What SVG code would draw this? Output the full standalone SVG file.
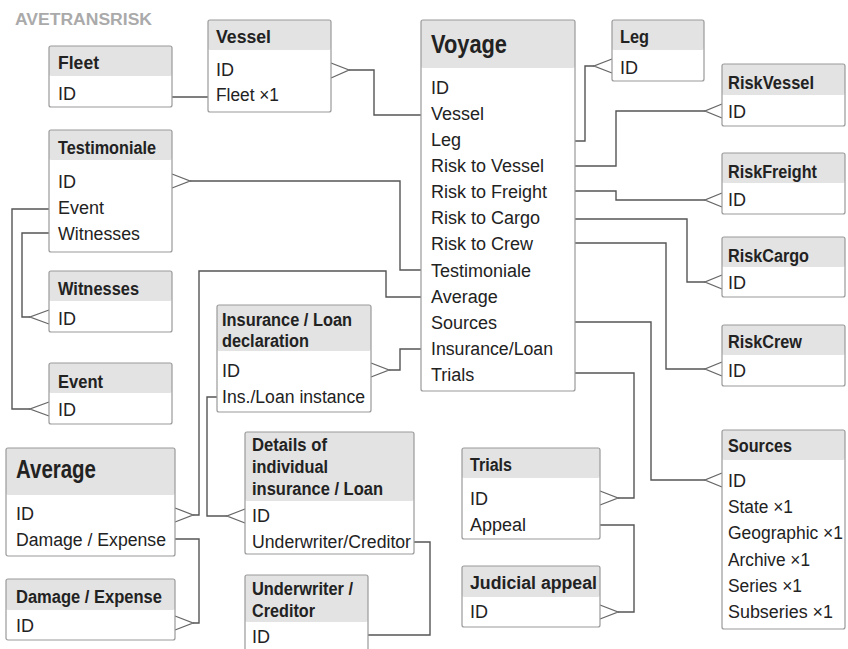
<svg xmlns="http://www.w3.org/2000/svg" width="848" height="649" viewBox="0 0 848 649">
<style>
.bg{fill:#ffffff;stroke:none}
.hd{fill:#e3e3e3;stroke:none}
.ol{fill:none;stroke:#9a9a9a;stroke-width:1.2}
.t{font-family:"Liberation Sans",Arial,sans-serif;font-size:18px;fill:#222}
.h{font-family:"Liberation Sans",Arial,sans-serif;font-size:18px;font-weight:bold;fill:#222}
.H{font-family:"Liberation Sans",Arial,sans-serif;font-size:25px;font-weight:bold;fill:#222}
.ttl{font-family:"Liberation Sans",Arial,sans-serif;font-size:16px;font-weight:bold;fill:#aaaaaa}
.c{fill:none;stroke:#555;stroke-width:1.4}
.cf{fill:none;stroke:#666;stroke-width:1.3}
</style>
<rect x="0" y="0" width="848" height="649" fill="#ffffff"/>
<text class="ttl" x="15" y="25" textLength="137" lengthAdjust="spacingAndGlyphs">AVETRANSRISK</text>

<g id="connectors">
<path class="c" d="M172,97 H208"/>
<path class="c" d="M421,115 H374 V70 H349"/><path class="cf" d="M331,63 L349,70 L331,78"/>
<path class="c" d="M575,141 H585 V66 H594"/><path class="cf" d="M612,59 L594,66 L612,73"/>
<path class="c" d="M575,166 H616 V111 H705"/><path class="cf" d="M722,104 L705,111 L722,118"/>
<path class="c" d="M575,191 H616 V200 H705"/><path class="cf" d="M722,193 L705,200 L722,207"/>
<path class="c" d="M575,219 H687 V282 H705"/><path class="cf" d="M722,275 L705,282 L722,289"/>
<path class="c" d="M575,243 H666 V369 H705"/><path class="cf" d="M722,362 L705,369 L722,376"/>
<path class="c" d="M575,322 H651 V480 H705"/><path class="cf" d="M722,473 L705,480 L722,487"/>
<path class="c" d="M575,373 H634 V498 H618"/><path class="cf" d="M600,491 L618,498 L600,505"/>
<path class="c" d="M600,525 H634 V612 H618"/><path class="cf" d="M600,605 L618,612 L600,619"/>
<path class="c" d="M421,270 H400 V181 H190"/><path class="cf" d="M172,174 L190,181 L172,188"/>
<path class="c" d="M421,297 H386 V271 H199 V515 H193"/><path class="cf" d="M175,508 L193,515 L175,522"/>
<path class="c" d="M421,349 H400 V370 H389"/><path class="cf" d="M371,363 L389,370 L371,377"/>
<path class="c" d="M217,397 H207 V516 H227"/><path class="cf" d="M245,509 L227,516 L245,523"/>
<path class="c" d="M414,542 H430 V635 H368"/>
<path class="c" d="M175,539 H199 V623 H193"/><path class="cf" d="M175,616 L193,623 L175,630"/>
<path class="c" d="M49,209 H12 V409 H30"/><path class="cf" d="M49,402 L30,409 L49,416"/>
<path class="c" d="M49,233 H22 V317 H30"/><path class="cf" d="M49,310 L30,317 L49,324"/>
</g>

<g id="fleet">
<rect class="bg" x="49" y="46" width="123" height="61" rx="2"/><rect class="hd" x="49" y="46" width="123" height="30" rx="2"/>
<rect class="ol" x="49" y="46" width="123" height="61" rx="2"/>
<text class="h" x="58" y="69" textLength="41" lengthAdjust="spacingAndGlyphs">Fleet</text>
<text class="t" x="58" y="100">ID</text>
</g>

<g id="vessel">
<rect class="bg" x="208" y="20" width="123" height="92" rx="2"/><rect class="hd" x="208" y="20" width="123" height="30" rx="2"/>
<rect class="ol" x="208" y="20" width="123" height="92" rx="2"/>
<text class="h" x="216" y="43" textLength="55" lengthAdjust="spacingAndGlyphs">Vessel</text>
<text class="t" x="216" y="76">ID</text>
<text class="t" x="216" y="101" textLength="63" lengthAdjust="spacingAndGlyphs">Fleet ×1</text>
</g>

<g id="voyage">
<rect class="bg" x="421" y="20" width="154" height="371" rx="2"/><rect class="hd" x="421" y="20" width="154" height="48" rx="2"/>
<rect class="ol" x="421" y="20" width="154" height="371" rx="2"/>
<text class="H" x="431" y="53" textLength="76" lengthAdjust="spacingAndGlyphs">Voyage</text>
<text class="t" x="431" y="94">ID</text>
<text class="t" x="431" y="120">Vessel</text>
<text class="t" x="431" y="146">Leg</text>
<text class="t" x="431" y="172">Risk to Vessel</text>
<text class="t" x="431" y="198">Risk to Freight</text>
<text class="t" x="431" y="224">Risk to Cargo</text>
<text class="t" x="431" y="250">Risk to Crew</text>
<text class="t" x="431" y="277">Testimoniale</text>
<text class="t" x="431" y="303">Average</text>
<text class="t" x="431" y="329">Sources</text>
<text class="t" x="431" y="355" textLength="122" lengthAdjust="spacingAndGlyphs">Insurance/Loan</text>
<text class="t" x="431" y="381">Trials</text>
</g>

<g id="leg">
<rect class="bg" x="612" y="20" width="92" height="61" rx="2"/><rect class="hd" x="612" y="20" width="92" height="30" rx="2"/>
<rect class="ol" x="612" y="20" width="92" height="61" rx="2"/>
<text class="h" x="620" y="43" textLength="29" lengthAdjust="spacingAndGlyphs">Leg</text>
<text class="t" x="620" y="74">ID</text>
</g>

<g id="riskvessel">
<rect class="bg" x="722" y="64" width="123" height="62" rx="2"/><rect class="hd" x="722" y="64" width="123" height="31" rx="2"/>
<rect class="ol" x="722" y="64" width="123" height="62" rx="2"/>
<text class="h" x="728" y="89" textLength="86" lengthAdjust="spacingAndGlyphs">RiskVessel</text>
<text class="t" x="728" y="118">ID</text>
</g>

<g id="riskfreight">
<rect class="bg" x="722" y="153" width="123" height="61" rx="2"/><rect class="hd" x="722" y="153" width="123" height="30" rx="2"/>
<rect class="ol" x="722" y="153" width="123" height="61" rx="2"/>
<text class="h" x="728" y="178" textLength="89" lengthAdjust="spacingAndGlyphs">RiskFreight</text>
<text class="t" x="728" y="206">ID</text>
</g>

<g id="riskcargo">
<rect class="bg" x="722" y="237" width="123" height="60" rx="2"/><rect class="hd" x="722" y="237" width="123" height="30" rx="2"/>
<rect class="ol" x="722" y="237" width="123" height="60" rx="2"/>
<text class="h" x="728" y="262" textLength="81" lengthAdjust="spacingAndGlyphs">RiskCargo</text>
<text class="t" x="728" y="289">ID</text>
</g>

<g id="riskcrew">
<rect class="bg" x="722" y="325" width="123" height="61" rx="2"/><rect class="hd" x="722" y="325" width="123" height="30" rx="2"/>
<rect class="ol" x="722" y="325" width="123" height="61" rx="2"/>
<text class="h" x="728" y="348" textLength="74" lengthAdjust="spacingAndGlyphs">RiskCrew</text>
<text class="t" x="728" y="377">ID</text>
</g>

<g id="sources">
<rect class="bg" x="722" y="430" width="123" height="199" rx="2"/><rect class="hd" x="722" y="430" width="123" height="30" rx="2"/>
<rect class="ol" x="722" y="430" width="123" height="199" rx="2"/>
<text class="h" x="728" y="452" textLength="64" lengthAdjust="spacingAndGlyphs">Sources</text>
<text class="t" x="728" y="487">ID</text>
<text class="t" x="728" y="513" textLength="65" lengthAdjust="spacingAndGlyphs">State ×1</text>
<text class="t" x="728" y="539" textLength="115" lengthAdjust="spacingAndGlyphs">Geographic ×1</text>
<text class="t" x="728" y="566" textLength="82" lengthAdjust="spacingAndGlyphs">Archive ×1</text>
<text class="t" x="728" y="592" textLength="74" lengthAdjust="spacingAndGlyphs">Series ×1</text>
<text class="t" x="728" y="618" textLength="105" lengthAdjust="spacingAndGlyphs">Subseries ×1</text>
</g>

<g id="trials">
<rect class="bg" x="462" y="448" width="138" height="91" rx="2"/><rect class="hd" x="462" y="448" width="138" height="30" rx="2"/>
<rect class="ol" x="462" y="448" width="138" height="91" rx="2"/>
<text class="h" x="470" y="471" textLength="42" lengthAdjust="spacingAndGlyphs">Trials</text>
<text class="t" x="470" y="505">ID</text>
<text class="t" x="470" y="531">Appeal</text>
</g>

<g id="judicialappeal">
<rect class="bg" x="462" y="566" width="138" height="61" rx="2"/><rect class="hd" x="462" y="566" width="138" height="31" rx="2"/>
<rect class="ol" x="462" y="566" width="138" height="61" rx="2"/>
<text class="h" x="470" y="589" textLength="127" lengthAdjust="spacingAndGlyphs">Judicial appeal</text>
<text class="t" x="470" y="618">ID</text>
</g>

<g id="testimoniale">
<rect class="bg" x="49" y="130" width="123" height="122" rx="2"/><rect class="hd" x="49" y="130" width="123" height="30" rx="2"/>
<rect class="ol" x="49" y="130" width="123" height="122" rx="2"/>
<text class="h" x="58" y="154" textLength="98" lengthAdjust="spacingAndGlyphs">Testimoniale</text>
<text class="t" x="58" y="188">ID</text>
<text class="t" x="58" y="214">Event</text>
<text class="t" x="58" y="240" textLength="82" lengthAdjust="spacingAndGlyphs">Witnesses</text>
</g>

<g id="witnesses">
<rect class="bg" x="49" y="271" width="123" height="61" rx="2"/><rect class="hd" x="49" y="271" width="123" height="30" rx="2"/>
<rect class="ol" x="49" y="271" width="123" height="61" rx="2"/>
<text class="h" x="58" y="295" textLength="81" lengthAdjust="spacingAndGlyphs">Witnesses</text>
<text class="t" x="58" y="325">ID</text>
</g>

<g id="event">
<rect class="bg" x="49" y="363" width="123" height="61" rx="2"/><rect class="hd" x="49" y="363" width="123" height="30" rx="2"/>
<rect class="ol" x="49" y="363" width="123" height="61" rx="2"/>
<text class="h" x="58" y="388" textLength="45" lengthAdjust="spacingAndGlyphs">Event</text>
<text class="t" x="58" y="416">ID</text>
</g>

<g id="insuranceloan">
<rect class="bg" x="217" y="305" width="154" height="107" rx="2"/><rect class="hd" x="217" y="305" width="154" height="46" rx="2"/>
<rect class="ol" x="217" y="305" width="154" height="107" rx="2"/>
<text class="h" x="222" y="326" textLength="130" lengthAdjust="spacingAndGlyphs">Insurance / Loan</text>
<text class="h" x="222" y="347" textLength="87" lengthAdjust="spacingAndGlyphs">declaration</text>
<text class="t" x="222" y="377">ID</text>
<text class="t" x="222" y="403" textLength="143" lengthAdjust="spacingAndGlyphs">Ins./Loan instance</text>
</g>

<g id="details">
<rect class="bg" x="245" y="432" width="169" height="122" rx="2"/><rect class="hd" x="245" y="432" width="169" height="69" rx="2"/>
<rect class="ol" x="245" y="432" width="169" height="122" rx="2"/>
<text class="h" x="252" y="451" textLength="75" lengthAdjust="spacingAndGlyphs">Details of</text>
<text class="h" x="252" y="473" textLength="76" lengthAdjust="spacingAndGlyphs">individual</text>
<text class="h" x="252" y="495" textLength="131" lengthAdjust="spacingAndGlyphs">insurance / Loan</text>
<text class="t" x="252" y="522">ID</text>
<text class="t" x="252" y="548" textLength="159" lengthAdjust="spacingAndGlyphs">Underwriter/Creditor</text>
</g>

<g id="underwriter">
<rect class="bg" x="245" y="575" width="123" height="80" rx="2"/><rect class="hd" x="245" y="575" width="123" height="47" rx="2"/>
<rect class="ol" x="245" y="575" width="123" height="80" rx="2"/>
<text class="h" x="252" y="595" textLength="101" lengthAdjust="spacingAndGlyphs">Underwriter /</text>
<text class="h" x="252" y="617" textLength="63" lengthAdjust="spacingAndGlyphs">Creditor</text>
<text class="t" x="252" y="643">ID</text>
</g>

<g id="average">
<rect class="bg" x="6" y="448" width="169" height="108" rx="2"/><rect class="hd" x="6" y="448" width="169" height="47" rx="2"/>
<rect class="ol" x="6" y="448" width="169" height="108" rx="2"/>
<text class="H" x="16" y="478" textLength="80" lengthAdjust="spacingAndGlyphs">Average</text>
<text class="t" x="16" y="520">ID</text>
<text class="t" x="16" y="546" textLength="150" lengthAdjust="spacingAndGlyphs">Damage / Expense</text>
</g>

<g id="damageexpense">
<rect class="bg" x="6" y="579" width="169" height="61" rx="2"/><rect class="hd" x="6" y="579" width="169" height="31" rx="2"/>
<rect class="ol" x="6" y="579" width="169" height="61" rx="2"/>
<text class="h" x="16" y="603" textLength="146" lengthAdjust="spacingAndGlyphs">Damage / Expense</text>
<text class="t" x="16" y="632">ID</text>
</g>
</svg>
